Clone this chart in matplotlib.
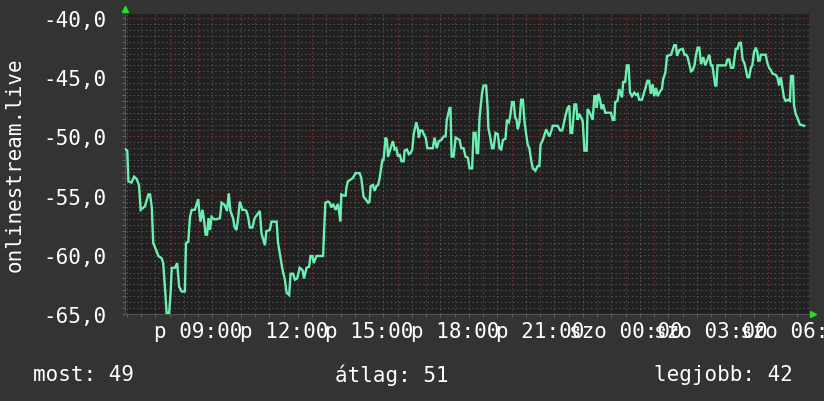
import matplotlib
matplotlib.use("Agg")
import matplotlib.pyplot as plt
import numpy as np

# signal level over one day, hours since midnight (24+ = next day)
hours = [
    6.45, 6.51, 6.55, 6.66, 6.75, 6.84, 6.92, 6.98, 7.13, 7.25, 7.31, 7.37, 7.42, 7.54, 7.60,
    7.72, 7.77, 7.83, 7.89, 7.98, 8.03, 8.07, 8.18, 8.26, 8.33, 8.42, 8.53, 8.57, 8.65, 8.71,
    8.77, 8.88, 9.00, 9.03, 9.08, 9.15, 9.20, 9.26, 9.31, 9.36, 9.41, 9.47, 9.56, 9.64, 9.76,
    9.82, 9.93, 10.01, 10.07, 10.13, 10.22, 10.28, 10.34, 10.40, 10.46, 10.55, 10.63, 10.69, 10.75, 10.81,
    10.90, 10.98, 11.07, 11.16, 11.22, 11.34, 11.39, 11.51, 11.57, 11.75, 11.80, 11.96, 12.04, 12.10, 12.19,
    12.24, 12.33, 12.39, 12.47, 12.56, 12.66, 12.71, 12.80, 12.89, 12.94, 13.01, 13.05, 13.15, 13.38, 13.40,
    13.46, 13.55, 13.61, 13.67, 13.73, 13.82, 13.90, 13.99, 14.02, 14.10, 14.17, 14.20, 14.25, 14.37, 14.43,
    14.52, 14.66, 14.72, 14.80, 14.87, 14.96, 15.01, 15.05, 15.13, 15.19, 15.25, 15.31, 15.36, 15.46, 15.50,
    15.54, 15.57, 15.62, 15.66, 15.72, 15.83, 15.89, 15.95, 16.01, 16.07, 16.13, 16.21, 16.24, 16.32, 16.39,
    16.45, 16.51, 16.56, 16.65, 16.71, 16.74, 16.79, 16.86, 16.91, 16.98, 17.04, 17.23, 17.29, 17.37, 17.44,
    17.53, 17.61, 17.68, 17.72, 17.82, 17.85, 17.89, 17.96, 18.03, 18.17, 18.23, 18.31, 18.38, 18.46, 18.52,
    18.61, 18.66, 18.73, 18.77, 18.82, 18.87, 18.96, 19.01, 19.10, 19.15, 19.18, 19.24, 19.31, 19.36, 19.43,
    19.51, 19.57, 19.63, 19.69, 19.78, 19.83, 19.90, 19.94, 20.01, 20.07, 20.12, 20.17, 20.21, 20.27, 20.33,
    20.39, 20.45, 20.50, 20.56, 20.62, 20.68, 20.74, 20.83, 20.91, 20.97, 21.01, 21.09, 21.21, 21.26, 21.32,
    21.38, 21.44, 21.61, 21.70, 21.77, 21.81, 21.88, 21.96, 22.02, 22.06, 22.12, 22.20, 22.26, 22.31, 22.37,
    22.43, 22.49, 22.55, 22.63, 22.66, 22.72, 22.84, 22.90, 22.96, 22.98, 23.04, 23.10, 23.15, 23.21, 23.28,
    23.48, 23.54, 23.60, 23.63, 23.71, 23.77, 23.87, 23.91, 23.98, 24.04, 24.10, 24.15, 24.22, 24.30, 24.36,
    24.42, 24.47, 24.57, 24.68, 24.76, 24.82, 24.88, 24.94, 25.00, 25.06, 25.12, 25.20, 25.27, 25.31, 25.39,
    25.45, 25.59, 25.70, 25.76, 25.80, 25.88, 26.00, 26.06, 26.12, 26.17, 26.29, 26.35, 26.41, 26.46, 26.52,
    26.58, 26.64, 26.72, 26.79, 26.87, 26.93, 26.99, 27.04, 27.14, 27.18, 27.22, 27.51, 27.57, 27.63, 27.69,
    27.77, 27.86, 27.92, 27.98, 28.04, 28.10, 28.16, 28.21, 28.27, 28.33, 28.39, 28.44, 28.50, 28.56, 28.62,
    28.65, 28.70, 28.74, 28.91, 28.97, 29.03, 29.09, 29.15, 29.26, 29.32, 29.38, 29.44, 29.50, 29.55, 29.61,
    29.70, 29.76, 29.80, 29.87, 29.90, 29.96, 30.02, 30.11, 30.26,
]
level = [
    -51.1, -51.2, -53.8, -53.9, -53.4, -53.6, -54.1, -56.2, -55.9, -54.9, -54.9, -56.0, -59.0, -59.7, -60.1,
    -60.3, -60.7, -62.7, -64.9, -64.9, -63.2, -61.1, -61.1, -60.7, -62.7, -63.1, -63.1, -59.0, -58.9, -56.8,
    -56.2, -56.2, -55.3, -56.2, -57.2, -56.2, -57.0, -58.3, -58.3, -56.9, -57.9, -56.8, -57.0, -57.0, -56.9,
    -55.6, -55.8, -56.3, -54.8, -56.3, -56.9, -57.7, -57.9, -56.9, -55.5, -56.2, -56.2, -56.3, -56.8, -57.7,
    -57.7, -56.9, -56.6, -56.3, -58.2, -59.2, -58.0, -57.9, -57.2, -57.2, -59.0, -61.3, -62.1, -63.2, -63.4,
    -61.6, -61.6, -62.1, -62.0, -61.1, -61.3, -62.0, -61.1, -61.0, -60.1, -60.1, -60.7, -60.1, -60.1, -58.9,
    -55.6, -55.5, -55.6, -56.0, -55.7, -56.2, -55.7, -57.2, -54.9, -55.0, -55.0, -54.3, -53.8, -53.6, -53.5,
    -53.1, -53.1, -53.5, -55.1, -55.3, -55.6, -55.5, -54.2, -54.1, -54.6, -54.2, -54.1, -53.6, -52.0, -52.0,
    -51.0, -50.1, -50.3, -51.7, -51.2, -50.4, -51.1, -51.0, -51.7, -51.5, -52.1, -52.1, -51.2, -51.1, -51.5,
    -51.4, -51.1, -49.8, -48.8, -49.4, -50.1, -49.5, -49.5, -49.8, -50.1, -51.0, -51.0, -50.1, -51.0, -50.4,
    -50.3, -50.0, -50.0, -48.6, -47.6, -47.6, -51.7, -51.7, -50.1, -50.3, -51.0, -51.0, -51.7, -51.8, -52.7,
    -52.7, -49.7, -49.7, -51.4, -51.4, -48.4, -46.3, -45.7, -45.7, -47.4, -49.3, -50.0, -51.0, -51.0, -49.7,
    -49.8, -51.0, -51.1, -50.3, -50.2, -48.6, -48.8, -48.4, -47.1, -47.1, -48.4, -48.6, -49.4, -48.8, -46.9,
    -46.9, -48.8, -49.7, -50.7, -51.0, -52.0, -52.7, -52.9, -52.5, -52.5, -50.7, -50.3, -49.4, -49.7, -50.0,
    -49.6, -49.1, -49.1, -49.5, -49.5, -49.1, -48.3, -47.6, -47.4, -49.7, -49.7, -47.3, -47.3, -48.6, -48.1,
    -48.4, -48.7, -51.2, -51.2, -47.7, -47.9, -48.6, -46.6, -46.6, -47.6, -46.4, -46.9, -47.7, -47.3, -48.0,
    -48.0, -48.6, -48.6, -47.1, -47.0, -46.0, -46.7, -45.4, -45.4, -44.0, -44.0, -46.3, -46.6, -46.3, -46.5,
    -46.4, -46.9, -46.9, -46.0, -45.3, -45.3, -46.4, -45.6, -46.6, -45.9, -46.6, -46.2, -46.0, -45.2, -44.6,
    -43.2, -43.1, -42.3, -42.3, -43.2, -42.7, -42.6, -43.1, -43.1, -43.3, -44.5, -44.4, -44.0, -43.2, -42.5,
    -42.5, -43.9, -43.3, -44.0, -43.5, -43.1, -44.0, -44.0, -45.7, -45.7, -44.0, -44.0, -43.5, -43.5, -44.2,
    -44.2, -42.6, -42.6, -42.1, -42.1, -43.5, -43.8, -44.3, -45.0, -45.0, -44.2, -44.0, -42.9, -42.5, -42.9,
    -43.6, -43.6, -43.1, -43.1, -43.8, -44.2, -44.4, -44.7, -44.8, -45.0, -45.7, -45.0, -45.9, -46.7, -47.0,
    -46.9, -47.0, -44.9, -44.9, -47.3, -48.1, -48.4, -49.0, -49.1,
]

tick_hours = [9, 12, 15, 18, 21, 24, 27, 30]
tick_labels = ['p 09:00', 'p 12:00', 'p 15:00', 'p 18:00', 'p 21:00',
               'szo 00:00', 'szo 03:00', 'szo 06:00']

summary_text = ['most: 49', 'átlag: 51', 'legjobb: 42']

bg = '#333333'
plot_bg = '#212121'
line_color = '#6cf0b2'
minor_grid = '#5a5a5a'
major_grid = '#843a3a'
mono = 'DejaVu Sans Mono'

fig = plt.figure(figsize=(8.24, 4.02), dpi=100, facecolor=bg)
W, H = 824, 402
left, right, top, bottom = 125, 809, 15, 315
ax = fig.add_axes([left / W, 1 - bottom / H, (right - left) / W, (bottom - top) / H])
ax.set_facecolor(plot_bg)

ax.plot(hours, level, color=line_color, linewidth=1.7, solid_joinstyle='miter', zorder=3)

ax.set_xlim(6.43, 30.43)
ax.set_ylim(-65, -39.66)

# grid: minor every half hour / half unit, major every hour / 5 units
hour_grid = np.arange(7, 31)
ax.set_xticks(hour_grid)
ax.set_xticklabels([tick_labels[tick_hours.index(h)] if h in tick_hours else '' for h in hour_grid])
ax.set_xticks(np.arange(6.5, 30.5, 1.0), minor=True)
ax.set_yticks(np.arange(-65, -39, 5))
ax.set_yticklabels([f'{v:.1f}'.replace('.', ',') for v in np.arange(-65, -39, 5)])
ax.set_yticks(np.arange(-64.5, -39.5, 0.5), minor=True)

dots = (0, (1.4, 2.8))
ax.grid(which='minor', color=minor_grid, linewidth=0.7, linestyle=dots)
ax.grid(which='major', color=major_grid, linewidth=0.7, linestyle=dots)
ax.set_axisbelow(True)

ax.tick_params(axis='both', which='both', colors='#666666', length=2, width=0.7)
ax.tick_params(axis='y', which='major', labelsize=15, labelcolor='white', pad=11)
ax.tick_params(axis='x', which='major', labelsize=15, labelcolor='white', pad=3)
for lbl in ax.get_xticklabels() + ax.get_yticklabels():
    lbl.set_fontfamily(mono)

for side in ['top', 'right']:
    ax.spines[side].set_visible(False)
for side in ['left', 'bottom']:
    ax.spines[side].set_color('#555555')
    ax.spines[side].set_linewidth(0.7)

# small green arrows at the axis ends
ax.plot([0], [1 + 5 / (bottom - top)], marker='^', color='#1ee61e', markersize=5,
        transform=ax.transAxes, clip_on=False, zorder=5)
ax.plot([1 + 4 / (right - left)], [0], marker='>', color='#1ee61e', markersize=5,
        transform=ax.transAxes, clip_on=False, zorder=5)

ax.set_ylabel('onlinestream.live', fontsize=15, color='white', fontfamily=mono)
ax.yaxis.set_label_coords(-100 / (right - left), 0.5)

text_y = 1 - 375 / H
fig.text(33 / W, text_y, summary_text[0], color='white', fontsize=15, fontfamily=mono,
         ha='left', va='center')
fig.text(335 / W, text_y, summary_text[1], color='white', fontsize=15, fontfamily=mono,
         ha='left', va='center')
fig.text(793 / W, text_y, summary_text[2], color='white', fontsize=15, fontfamily=mono,
         ha='right', va='center')

plt.savefig('out.png', dpi=100, facecolor=bg)
plt.close()
